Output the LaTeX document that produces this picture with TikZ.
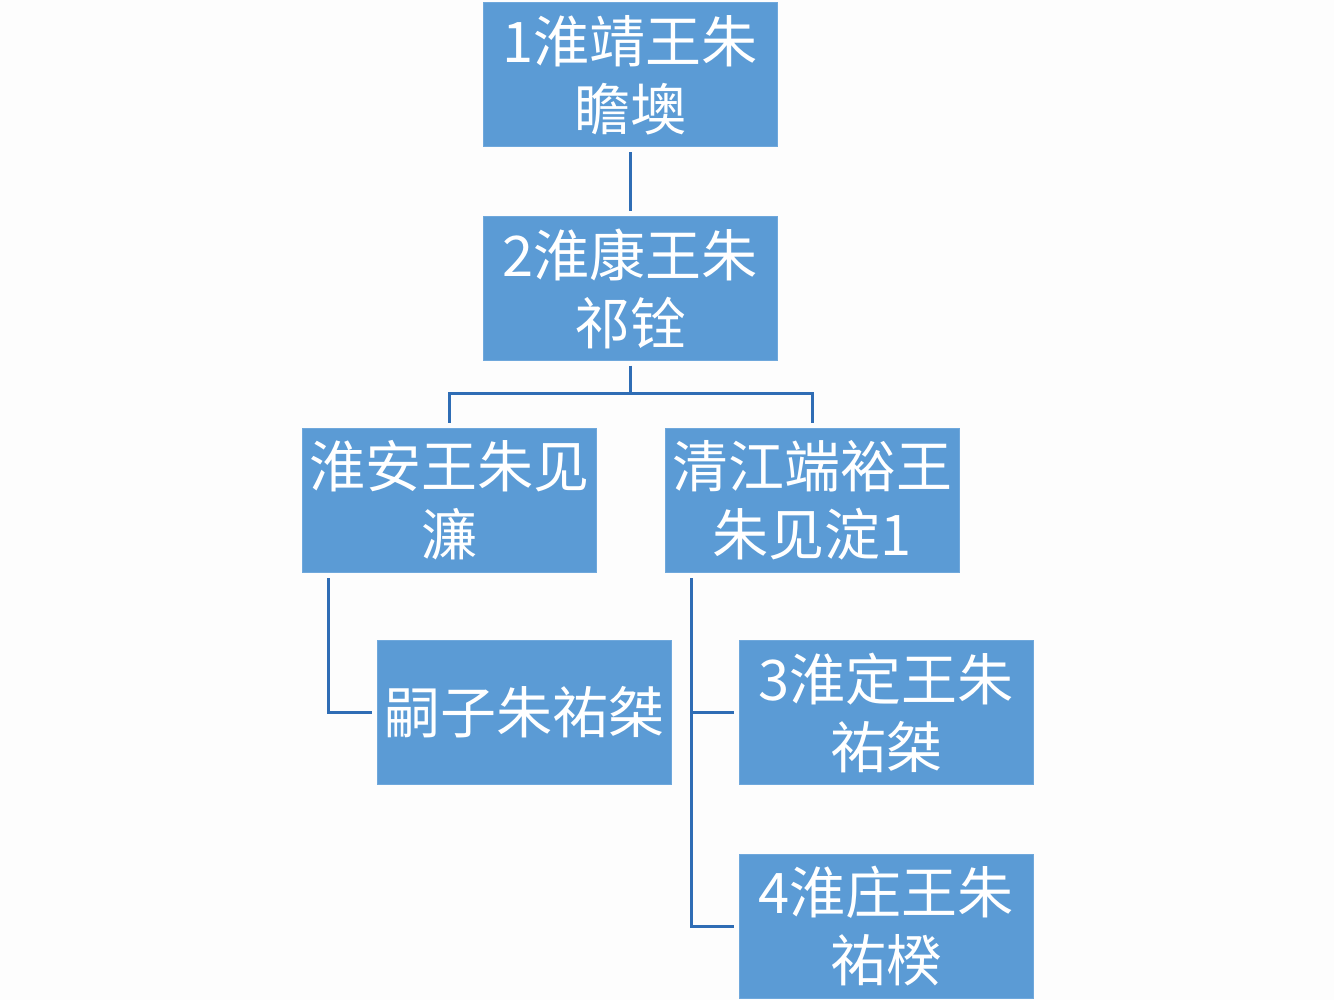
\documentclass[tikz,border=0pt]{standalone}
\usepackage{fontspec}
\usepackage{xcolor}
\usetikzlibrary{calc}
\newfontfamily\cjk{Noto Sans CJK SC}
\definecolor{boxfill}{HTML}{5B9BD5}
\definecolor{boxedge}{HTML}{6FA8DC}
\definecolor{link}{HTML}{2F6DB5}
\definecolor{paper}{HTML}{FDFDFD}
\tikzset{
  person/.style={fill=boxfill, draw=boxedge, line width=0.5pt,
    minimum width=147pt, minimum height=72pt, inner sep=0pt,
    align=center, text=white, font=\cjk\fontsize{28}{34}\selectfont},
  tie/.style={draw=link, line width=1.5pt, shorten <=2.5pt, shorten >=2.5pt}
}
\begin{document}
\begin{tikzpicture}[x=0.5pt,y=-0.5pt]
  \fill[paper] (0,0) rectangle (1334,1000);
  \useasboundingbox (0,0) rectangle (1334,1000);

  \node[person] (jing)  at (630,75)    {1淮靖王朱\\瞻墺};
  \node[person] (kang)  at (630,288.5) {2淮康王朱\\祁铨};
  \node[person] (an)    at (449,500.5) {淮安王朱见\\濂};
  \node[person] (qing)  at (812,500.5) {清江端裕王\\朱见淀1};
  \node[person] (sizi)  at (524,712.5) {嗣子朱祐桀};
  \node[person] (ding)  at (886,712.5) {3淮定王朱\\祐桀};
  \node[person] (zhuang) at (886,926)  {4淮庄王朱\\祐楑};

  \draw[tie] (jing.south) -- (kang.north);
  \draw[tie] (kang.south) -- ++(0,33) -| (an.north);
  \draw[tie] (kang.south) -- ++(0,33) -| (qing.north);
  \draw[tie] ($(an.south west)+(27,0)$) |- (sizi.west);
  \draw[tie] ($(qing.south west)+(27,0)$) |- (ding.west);
  \draw[tie] ($(qing.south west)+(27,0)$) |- (zhuang.west);
\end{tikzpicture}
\end{document}
